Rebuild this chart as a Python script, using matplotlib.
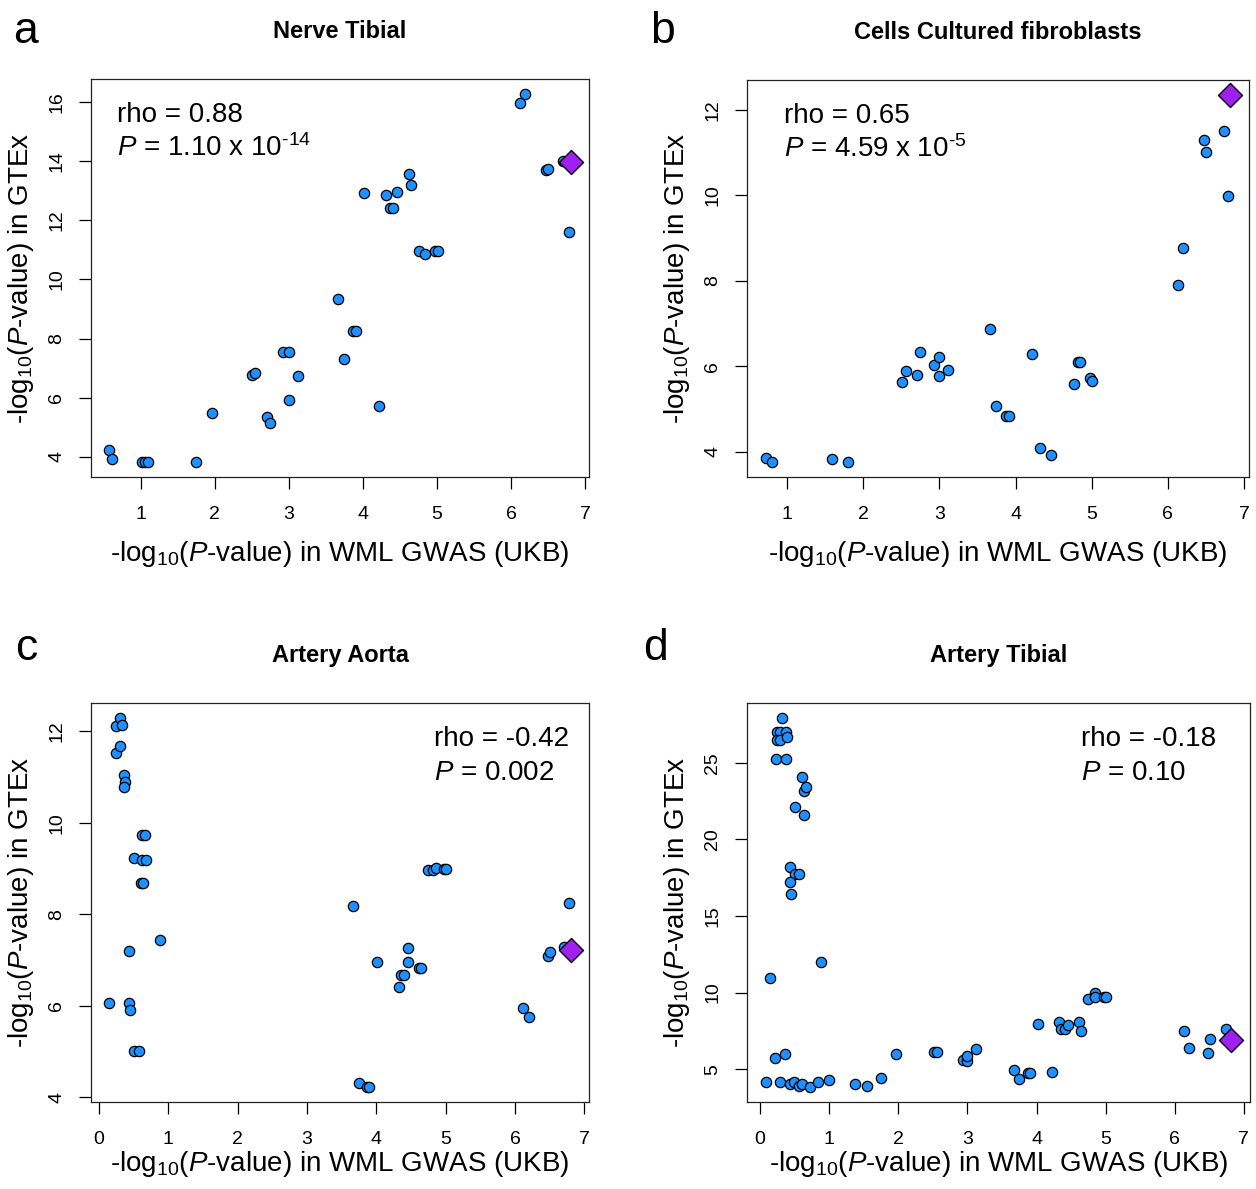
import matplotlib
matplotlib.use("Agg")
import matplotlib.pyplot as plt
import numpy as np

plt.rcParams['font.family'] = ['Liberation Sans', 'DejaVu Sans']
plt.rcParams['mathtext.fontset'] = 'custom'
plt.rcParams['mathtext.rm'] = 'Liberation Sans'
plt.rcParams['mathtext.it'] = 'Liberation Sans:italic'
plt.rcParams['mathtext.bf'] = 'Liberation Sans:bold'

# ---------------- data ----------------
# a: Nerve Tibial
nerve_x = [0.58, 0.62, 1.02, 1.06, 1.10, 1.75, 1.97, 2.50, 2.55, 2.71, 2.75, 2.92, 3.00,
           3.00, 3.12, 3.66, 3.74, 3.87, 3.90, 4.01, 4.22, 4.31, 4.37, 4.40, 4.46, 4.62,
           4.65, 4.76, 4.83, 4.97, 5.01, 6.12, 6.19, 6.47, 6.50, 6.70, 6.78]
nerve_y = [4.23, 3.92, 3.81, 3.81, 3.81, 3.83, 5.48, 6.76, 6.83, 5.35, 5.13, 7.53, 7.54,
           5.93, 6.72, 9.33, 7.30, 8.26, 8.26, 12.92, 5.71, 12.86, 12.43, 12.43, 12.96, 13.56,
           13.21, 10.95, 10.86, 10.97, 10.97, 15.98, 16.29, 13.72, 13.75, 14.00, 11.60]
nerve_lead = (6.80, 13.97)

# b: Cells Cultured fibroblasts
fibro_x = [0.72, 0.81, 1.59, 1.80, 2.51, 2.56, 2.71, 2.75, 2.93, 3.00, 3.00, 3.12, 3.67,
           3.75, 3.88, 3.91, 4.22, 4.32, 4.46, 4.77, 4.82, 4.85, 4.98, 5.01, 6.13, 6.20,
           6.48, 6.50, 6.73, 6.79]
fibro_y = [3.86, 3.75, 3.83, 3.75, 5.63, 5.88, 5.80, 6.34, 6.03, 6.21, 5.77, 5.92, 6.87,
           5.06, 4.83, 4.83, 6.29, 4.08, 3.91, 5.58, 6.11, 6.11, 5.72, 5.65, 7.91, 8.78,
           11.29, 11.01, 11.52, 9.98]
fibro_lead = (6.82, 12.36)

# c: Artery Aorta
aorta_x = [0.15, 0.24, 0.30, 0.33, 0.25, 0.30, 0.36, 0.38, 0.36, 0.43, 0.43, 0.45, 0.50,
           0.57, 0.51, 0.62, 0.67, 0.62, 0.66, 0.61, 0.63, 0.88, 3.66, 3.75, 3.87, 3.90,
           4.01, 4.32, 4.36, 4.40, 4.45, 4.46, 4.62, 4.65, 4.75, 4.82, 4.86, 4.97, 5.01,
           6.12, 6.20, 6.47, 6.50, 6.71, 6.78]
aorta_y = [6.07, 12.13, 12.30, 12.15, 11.52, 11.68, 11.05, 10.89, 10.79, 7.21, 6.06, 5.90,
           5.02, 5.02, 9.23, 9.20, 9.20, 9.73, 9.74, 8.69, 8.69, 7.45, 8.19, 4.31, 4.22, 4.22,
           6.95, 6.41, 6.67, 6.67, 6.95, 7.26, 6.83, 6.83, 8.96, 8.97, 9.01, 9.00, 9.00,
           5.95, 5.75, 7.10, 7.18, 7.29, 8.26]
aorta_lead = (6.80, 7.22)

# d: Artery Tibial
tibial_x = [0.08, 0.14, 0.21, 0.36, 0.23, 0.37, 0.32, 0.24, 0.29, 0.37, 0.24, 0.29, 0.39,
            0.61, 0.63, 0.66, 0.50, 0.63, 0.43, 0.51, 0.57, 0.43, 0.44, 0.88, 0.29, 0.43,
            0.49, 0.57, 0.61, 0.72, 0.84, 1.00, 1.38, 1.55, 1.75, 1.97, 2.52, 2.56, 2.93,
            3.00, 3.00, 3.13, 3.67, 3.75, 3.87, 3.91, 4.02, 4.22, 4.32, 4.36, 4.41, 4.45,
            4.62, 4.65, 4.75, 4.84, 4.85, 4.98, 5.01, 6.13, 6.20, 6.48, 6.51, 6.74]
tibial_y = [4.15, 10.92, 5.76, 6.02, 25.26, 25.26, 27.94, 27.02, 27.02, 27.02, 26.52, 26.52,
            26.70, 24.06, 23.17, 23.43, 22.13, 21.58, 18.17, 17.77, 17.77, 17.21, 16.45,
            11.99, 4.15, 4.02, 4.15, 3.93, 4.02, 3.82, 4.15, 4.28, 4.02, 3.89, 4.41, 5.96,
            6.13, 6.13, 5.59, 5.50, 5.85, 6.31, 4.96, 4.37, 4.78, 4.78, 7.94, 4.83, 8.05,
            7.63, 7.63, 7.87, 8.07, 7.48, 9.61, 9.98, 9.68, 9.68, 9.68, 7.52, 6.35, 6.07,
            6.94, 7.63]
tibial_lead = (6.82, 6.89)

titles = ['Nerve Tibial', 'Cells Cultured fibroblasts', 'Artery Aorta', 'Artery Tibial']
letters = ['a', 'b', 'c', 'd']
rho_txt = ['rho = 0.88', 'rho = 0.65', 'rho = -0.42', 'rho = -0.18']
p_txt = [r'$\it{P}$ = 1.10 x 10$^{\text{-14}}$', r'$\it{P}$ = 4.59 x 10$^{\text{-5}}$',
         r'$\it{P}$ = 0.002', r'$\it{P}$ = 0.10']
xticks = [range(1, 8), range(1, 8), range(0, 8), range(0, 8)]
yticks = [range(4, 17, 2), range(4, 13, 2), range(4, 13, 2), range(5, 26, 5)]

panels = [(nerve_x, nerve_y, nerve_lead), (fibro_x, fibro_y, fibro_lead),
          (aorta_x, aorta_y, aorta_lead), (tibial_x, tibial_y, tibial_lead)]

# layout (pixels of the 1256x1189 figure)
W, H = 1256, 1189
boxes = [(91, 79, 589, 477), (747, 80, 1249, 477), (91, 703, 589, 1102), (747, 703, 1250, 1102)]
txt_x = [0.052, 0.074, 0.689, 0.665]
letter_pos = [(13, 43), (650, 43), (15, 660), (643, 660)]
xlab_base = [561, 561, 1171, 1171]

fig = plt.figure(figsize=(W / 100, H / 100), dpi=100)

for i, (xs, ys, lead) in enumerate(panels):
    l, t, r, b = boxes[i]
    ax = fig.add_axes([l / W, 1 - b / H, (r - l) / W, (b - t) / H])

    ax.scatter(xs, ys, s=55, c='#1E90FF', edgecolors='black', linewidths=0.9, zorder=3)
    ax.scatter([lead[0]], [lead[1]], s=150, marker='D', c='#A020F0',
               edgecolors='black', linewidths=1.0, zorder=4)

    # R style 4% expansion
    allx = np.array(list(xs) + [lead[0]])
    ally = np.array(list(ys) + [lead[1]])
    dx = allx.max() - allx.min()
    dy = ally.max() - ally.min()
    ax.set_xlim(allx.min() - 0.04 * dx, allx.max() + 0.04 * dx)
    ax.set_ylim(ally.min() - 0.04 * dy, ally.max() + 0.04 * dy)

    ax.set_xticks(list(xticks[i]))
    ax.set_yticks(list(yticks[i]))
    ax.tick_params(axis='both', direction='out', length=8.6, width=0.9, labelsize=14, colors='black')
    ax.tick_params(axis='x', pad=12)
    ax.tick_params(axis='y', pad=10, labelrotation=90)
    for lbl in ax.get_yticklabels():
        lbl.set_va('center')
    for sp in ax.spines.values():
        sp.set_linewidth(0.9)
        sp.set_color('#222222')

    ax.set_title(titles[i], fontsize=17, fontweight='bold', pad=29.5)

    ax.set_xlabel(r'-log$_{10}$($\it{P}$-value) in WML GWAS (UKB)', fontsize=20)
    ax.xaxis.label.set_va('baseline')
    ax.xaxis.set_label_coords(0.5, -(xlab_base[i] - b) / (b - t))
    ax.set_ylabel(r'-log$_{10}$($\it{P}$-value) in GTEx', fontsize=20)
    ax.yaxis.label.set_va('center')
    ax.yaxis.set_label_coords(-(l - (21 if l < 400 else 677)) / (r - l), 0.5)

    ax.text(txt_x[i], 0.892, rho_txt[i], transform=ax.transAxes, fontsize=20, ha='left', va='baseline')
    ax.text(txt_x[i], 0.806, p_txt[i], transform=ax.transAxes, fontsize=20, ha='left', va='baseline')

    lx, ly = letter_pos[i]
    fig.text(lx / W, 1 - ly / H, letters[i], fontsize=32, va='baseline', ha='left')

fig.savefig('out.png', dpi=100)
